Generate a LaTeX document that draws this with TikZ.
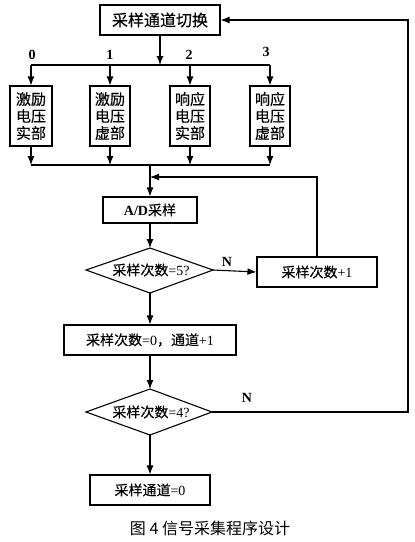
\documentclass[tikz,border=0pt]{standalone}
\usepackage{fontspec}
\setmainfont{Liberation Serif}
\newfontfamily\cjk[AutoFakeBold=0.3]{Noto Sans CJK SC}
\newfontfamily\capfont{Noto Sans CJK SC}
\newcommand\zh[1]{{\cjk\bfseries #1}}
\usetikzlibrary{arrows.meta}
\begin{document}
\begin{tikzpicture}[x=1pt,y=-1pt,
  line width=1.1pt,
  box/.style={draw,line width=1.1pt,inner sep=0pt,align=center,font=\fontsize{14}{17}\selectfont},
  tall/.style={box,minimum width=40pt,minimum height=60pt,font=\fontsize{15}{17}\selectfont},
  arr/.style={-{Latex[length=9pt,width=7pt]}},
  lbl/.style={font=\fontsize{14}{16}\selectfont\bfseries}]
\useasboundingbox (0,0) rectangle (415,542);
% nodes
\node[box,minimum width=120pt,minimum height=30pt,font=\fontsize{16}{18}\selectfont] (top) at (160,20) {\zh{采样通道切换}};
\node[tall,minimum width=42pt] (b0) at (31,116) {\zh{激励}\\\zh{电压}\\\zh{实部}};
\node[tall] (b1) at (110,116) {\zh{激励}\\\zh{电压}\\\zh{虚部}};
\node[tall] (b2) at (190,116) {\zh{响应}\\\zh{电压}\\\zh{实部}};
\node[tall] (b3) at (270,116) {\zh{响应}\\\zh{电压}\\\zh{虚部}};
\node[box,minimum width=94pt,minimum height=26pt] (ad) at (150,210) {\textbf{A/D}\zh{采样}};
% diamond 1
\coordinate (d1t) at (150,248);
\coordinate (d1r) at (213,270);
\coordinate (d1b) at (150,293);
\coordinate (d1l) at (86,270);
\draw (d1t) -- (d1r) -- (d1b) -- (d1l) -- cycle;
\node[font=\fontsize{14}{16}\selectfont] (d1) at (151,270) {\zh{采样次数}=5?};
\node[box,minimum width=120pt,minimum height=30pt] (inc) at (317,272) {\zh{采样次数}+1};
\node[box,minimum width=172pt,minimum height=30pt] (zero) at (150,340) {\zh{采样次数}=0\zh{，通道}+1};
% diamond 2
\coordinate (d2t) at (150,389);
\coordinate (d2r) at (212,412);
\coordinate (d2b) at (150,435);
\coordinate (d2l) at (86,412);
\draw (d2t) -- (d2r) -- (d2b) -- (d2l) -- cycle;
\node[font=\fontsize{14}{16}\selectfont] (d2) at (151,412) {\zh{采样次数}=4?};
\node[box,minimum width=120pt,minimum height=30pt] (end) at (150,490) {\zh{采样通道}=0};
\node[font=\fontsize{16}{18}\selectfont] (cap) at (210,528) {\capfont 图 4 信号采集程序设计};
% labels
\node[lbl] (l0) at (32,55) {0};
\node[lbl] (l1) at (110,55) {1};
\node[lbl] (l2) at (189,55) {2};
\node[lbl] (l3) at (266,52) {3};
\node[lbl] (n1) at (227,262) {N};
\node[lbl] (n2) at (247,398) {N};
% split coordinates
\coordinate (s) at (160,65);
\coordinate (sl) at (31,65);
\coordinate (sr) at (270,65);
\coordinate (m) at (150,165);
\coordinate (ml) at (31,165);
\coordinate (mr) at (270,165);
\coordinate (fb) at (317,177);
\coordinate (fbin) at (150,177);
\coordinate (rt) at (408,412);
\coordinate (rtt) at (408,20);
% connectors
\draw[arr] (top.south) -- (s);
\draw (sl) -- (sr);
\draw[arr] (sl) -- (b0.north);
\draw[arr] (b1.north |- s) -- (b1.north);
\draw[arr] (b2.north |- s) -- (b2.north);
\draw[arr] (sr) -- (b3.north);
\draw[arr] (b0.south) -- (ml);
\draw[arr] (b1.south) -- (b1.south |- m);
\draw[arr] (b2.south) -- (b2.south |- m);
\draw[arr] (b3.south) -- (mr);
\draw (ml) -- (mr);
\draw[arr] (m) -- (ad.north);
\draw[arr] (inc.north) -- (fb) -- (fbin);
\draw[arr] (ad.south) -- (d1t);
\draw[arr] (d1r) -- (inc.west);
\draw[arr] (d1b) -- (zero.north);
\draw[arr] (zero.south) -- (d2t);
\draw[arr] (d2r) -- (rt) -- (rtt) -- (top.east);
\draw[arr] (d2b) -- (end.north);
\end{tikzpicture}
\end{document}
